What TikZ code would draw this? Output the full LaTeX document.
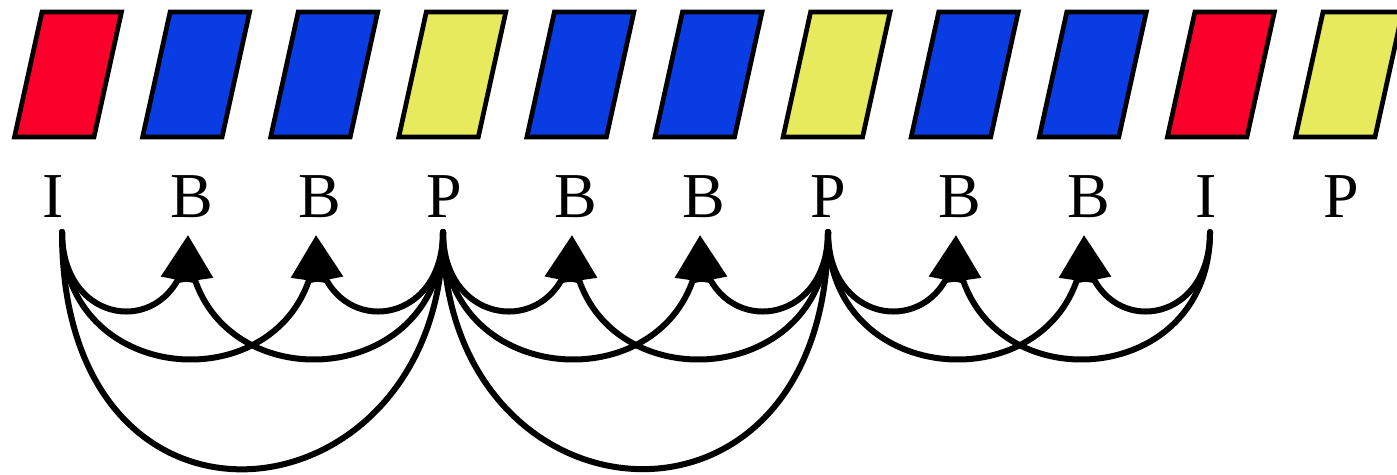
\documentclass[tikz,border=0pt]{standalone}
\usepackage{fontspec}
\setmainfont{Liberation Serif}
\usetikzlibrary{arrows.meta,bending}
\definecolor{frameI}{HTML}{FC002C}
\definecolor{frameB}{HTML}{0A3CE4}
\definecolor{frameP}{HTML}{E8EA5E}
\begin{document}
\begin{tikzpicture}[x=1pt,y=1pt,
  frame/.style={draw=black,line width=4.7pt,line join=miter},
  lbl/.style={anchor=base west,inner sep=0pt,font=\fontsize{64}{70}\selectfont},
  link/.style={line width=6pt,line cap=round},
  refarrow/.style={link,-{Triangle[length=46pt,width=36pt,flex]}},
  small/.style={refarrow,out=-90,in=-90,distance=104pt},
  mid/.style={refarrow,out=-90,in=-90,distance=168pt},
  bigA/.style={link,out=-90,in=-90,out distance=340pt,in distance=292pt},
  bigB/.style={link,out=-90,in=-90,out distance=300pt,in distance=332pt}]
\useasboundingbox (0,0) rectangle (1397,-474);
% frames and labels
\foreach \t [count=\i from 0] in {I,B,B,P,B,B,P,B,B,I,P} {
  \pgfmathsetmacro\bx{14.5+128.1*\i}
  \filldraw[frame,fill=frame\t] (\bx,-137) -- ++(79.5,0) -- ++(27.5,125) -- ++(-79.5,0) -- cycle;
  \node[lbl] (l\i) at ({42+128.1*\i},-217) {\t};
}
% connection points
\coordinate (s0) at (62,-232);
\coordinate (t1) at (188,-235);
\coordinate (t2) at (316,-235);
\coordinate (s3) at (443,-232);
\coordinate (t4) at (572,-235);
\coordinate (t5) at (700,-235);
\coordinate (s6) at (828,-232);
\coordinate (t7) at (956,-235);
\coordinate (t8) at (1084,-235);
\coordinate (s9) at (1210,-232);
% references
\draw[small] (s0) to (t1);
\draw[mid]   (s0) to (t2);
\draw[bigA]  (s0) to (s3);
\draw[mid]   (s3) to (t1);
\draw[small] (s3) to (t2);
\draw[small] (s3) to (t4);
\draw[mid]   (s3) to (t5);
\draw[bigB]  (s3) to (s6);
\draw[mid]   (s6) to (t4);
\draw[small] (s6) to (t5);
\draw[small] (s6) to (t7);
\draw[mid]   (s6) to (t8);
\draw[mid]   (s9) to (t7);
\draw[small] (s9) to (t8);
\end{tikzpicture}
\end{document}
